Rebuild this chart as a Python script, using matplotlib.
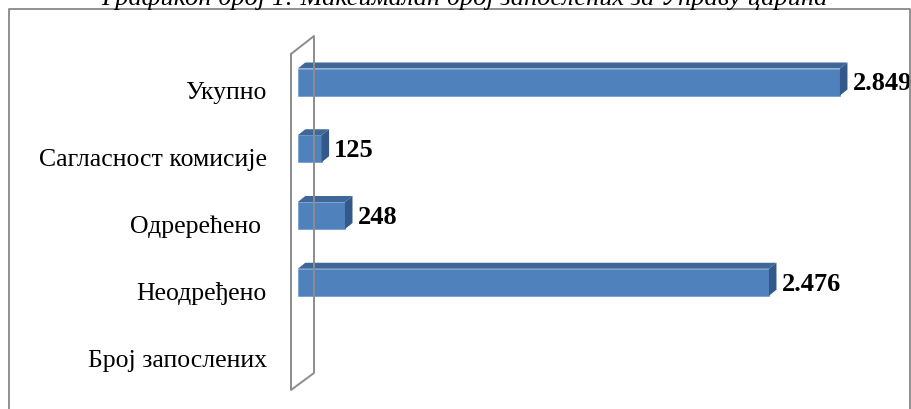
import matplotlib
matplotlib.use('Agg')
import matplotlib.pyplot as plt
from matplotlib.patches import Polygon, Rectangle

# ---- data ----
categories = ['Укупно', 'Сагласност комисије', 'Одререћено ', 'Неодређено', 'Број запослених']
values = [2849, 125, 248, 2476, 0]
value_labels = ['2.849', '125', '248', '2.476', '']
title = 'Графикон број 1: Максималан број запослених за Управу царина'

# ---- layout ----
W, H, DPI = 911, 410, 100
fig = plt.figure(figsize=(W / DPI, H / DPI), dpi=DPI)

x0_px = 297.8          # pixel x of value 0
px_per_unit = 0.1903   # pixels per unit
row_px = 66.75         # pixel spacing between categories
first_row_px = 91      # pixel y (from top) of first category

ax = fig.add_axes([x0_px / W, 0, (W - x0_px) / W, 1])
ax.set_xlim(0, (W - x0_px) / px_per_unit)
ax.set_ylim((H - first_row_px) / row_px, -first_row_px / row_px)

front_c = '#4F81BD'
top_c = '#3F6899'
side_c = '#33598A'

ddx = 7.5 / px_per_unit
ddy = -6 / row_px
off = -8 / row_px
half = 13.5 / row_px

for i, v in enumerate(values):
    if v <= 0:
        continue
    c = i + off
    yt, yb = c - half, c + half
    ax.add_patch(Rectangle((0, yt), v, yb - yt, facecolor=front_c,
                           edgecolor='#6F97CC', linewidth=0.5, zorder=3))
    ax.add_patch(Polygon([(0, yt), (v, yt), (v + ddx, yt + ddy), (ddx, yt + ddy)],
                         closed=True, facecolor=top_c, edgecolor='none', zorder=3))
    ax.add_patch(Polygon([(v, yt), (v + ddx, yt + ddy), (v + ddx, yb + ddy), (v, yb)],
                         closed=True, facecolor=side_c, edgecolor='none', zorder=3))
    ax.text(v + ddx + 5 / px_per_unit, c + 1 / row_px, value_labels[i],
            ha='left', va='center', fontsize=19, fontweight='bold',
            family='Liberation Serif', color='black', zorder=4)

ax.set_yticks(range(len(categories)))
ax.set_yticklabels(categories, fontsize=18.5, family='Liberation Serif')
ax.tick_params(axis='y', length=0, pad=(x0_px - 267) * 72 / DPI)
ax.set_xticks([])
for s in ax.spines.values():
    s.set_visible(False)
ax.patch.set_alpha(0)

# ---- wall (3D axis plane) ----
def fx(px):
    return px / W

def fy(py):
    return 1 - py / H

wall_x = [291, 314, 314, 291, 291]
wall_y = [55, 37, 374, 391, 55]
fig.add_artist(plt.Line2D([fx(x) for x in wall_x], [fy(y) for y in wall_y],
                          transform=fig.transFigure, color='#8C8C8C', lw=1.4, zorder=1))

# ---- outer frame ----
fig.add_artist(plt.Line2D([fx(9), fx(9), fx(910), fx(910)], [fy(412), fy(10), fy(10), fy(412)],
                          transform=fig.transFigure, color='#888888', lw=1.3, zorder=1))

# ---- title (cut at the top as in the reference) ----
fig.text(464 / W, fy(5), title, ha='center', va='baseline', fontsize=19,
         fontstyle='italic', family='Liberation Serif', color='black')

fig.savefig('out.png', dpi=DPI)
